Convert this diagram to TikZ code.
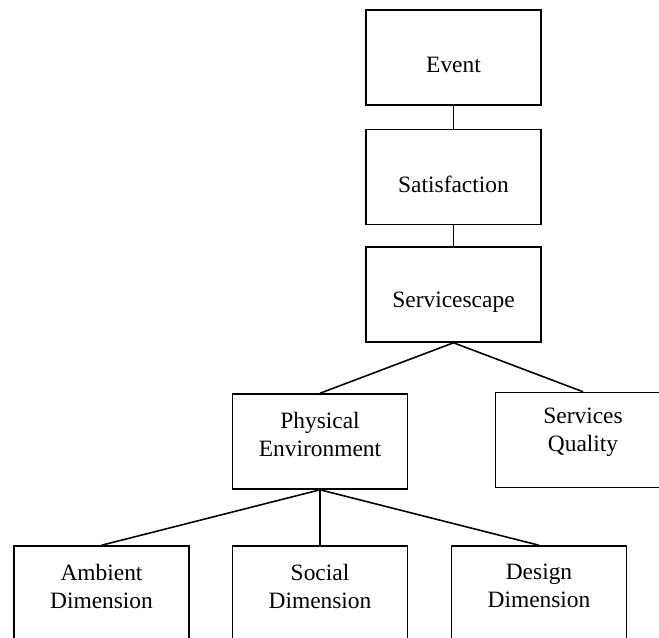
\documentclass[tikz,border=0pt]{standalone}
\usepackage{fontspec}
\setmainfont{Liberation Serif}
\begin{document}
\begin{tikzpicture}[
x=0.018cm,y=-0.018cm,
box/.style={draw,line width=0.8pt,minimum width=3.15cm,minimum height=1.71cm,inner sep=0pt},
one/.style={label={[txt,yshift=-3.8pt]center:#1}},
two/.style={label={[txt,yshift=3.8pt]center:#1}},
txt/.style={align=center,font=\fontsize{12}{14.3}\selectfont},
lnk/.style={line width=0.8pt}
]
\useasboundingbox(0,0)rectangle(659,637);
%\draw[help lines,step=50](0,0)grid(659,637);
\node[box,one=Event]at(453.5,57.5)(event){};
\node[box,one=Satisfaction]at(453.5,177)(satis){};
\node[box,one=Servicescape]at(453.5,294.5)(scape){};

\node[box,two={Physical\\Environment}]at(320,441.5)(phys){};
\node[box,two={Services\\Quality}]at(583,440)(qual){};

\node[box,two={Ambient\\Dimension}]at(101.5,593.5)(amb){};
\node[box,two={Social\\Dimension}]at(320,593.5)(soc){};
\node[box,two={Design\\Dimension}]at(539,593.5)(des){};

\draw[lnk](event)--(satis);
\draw[lnk](satis)--(scape);
\draw[lnk](scape.south)--(phys.north);
\draw[lnk](scape.south)--(qual.north);
\foreach \n in {amb,soc,des}
  \draw[lnk](phys.south)--(\n.north);
\end{tikzpicture}
\end{document}
